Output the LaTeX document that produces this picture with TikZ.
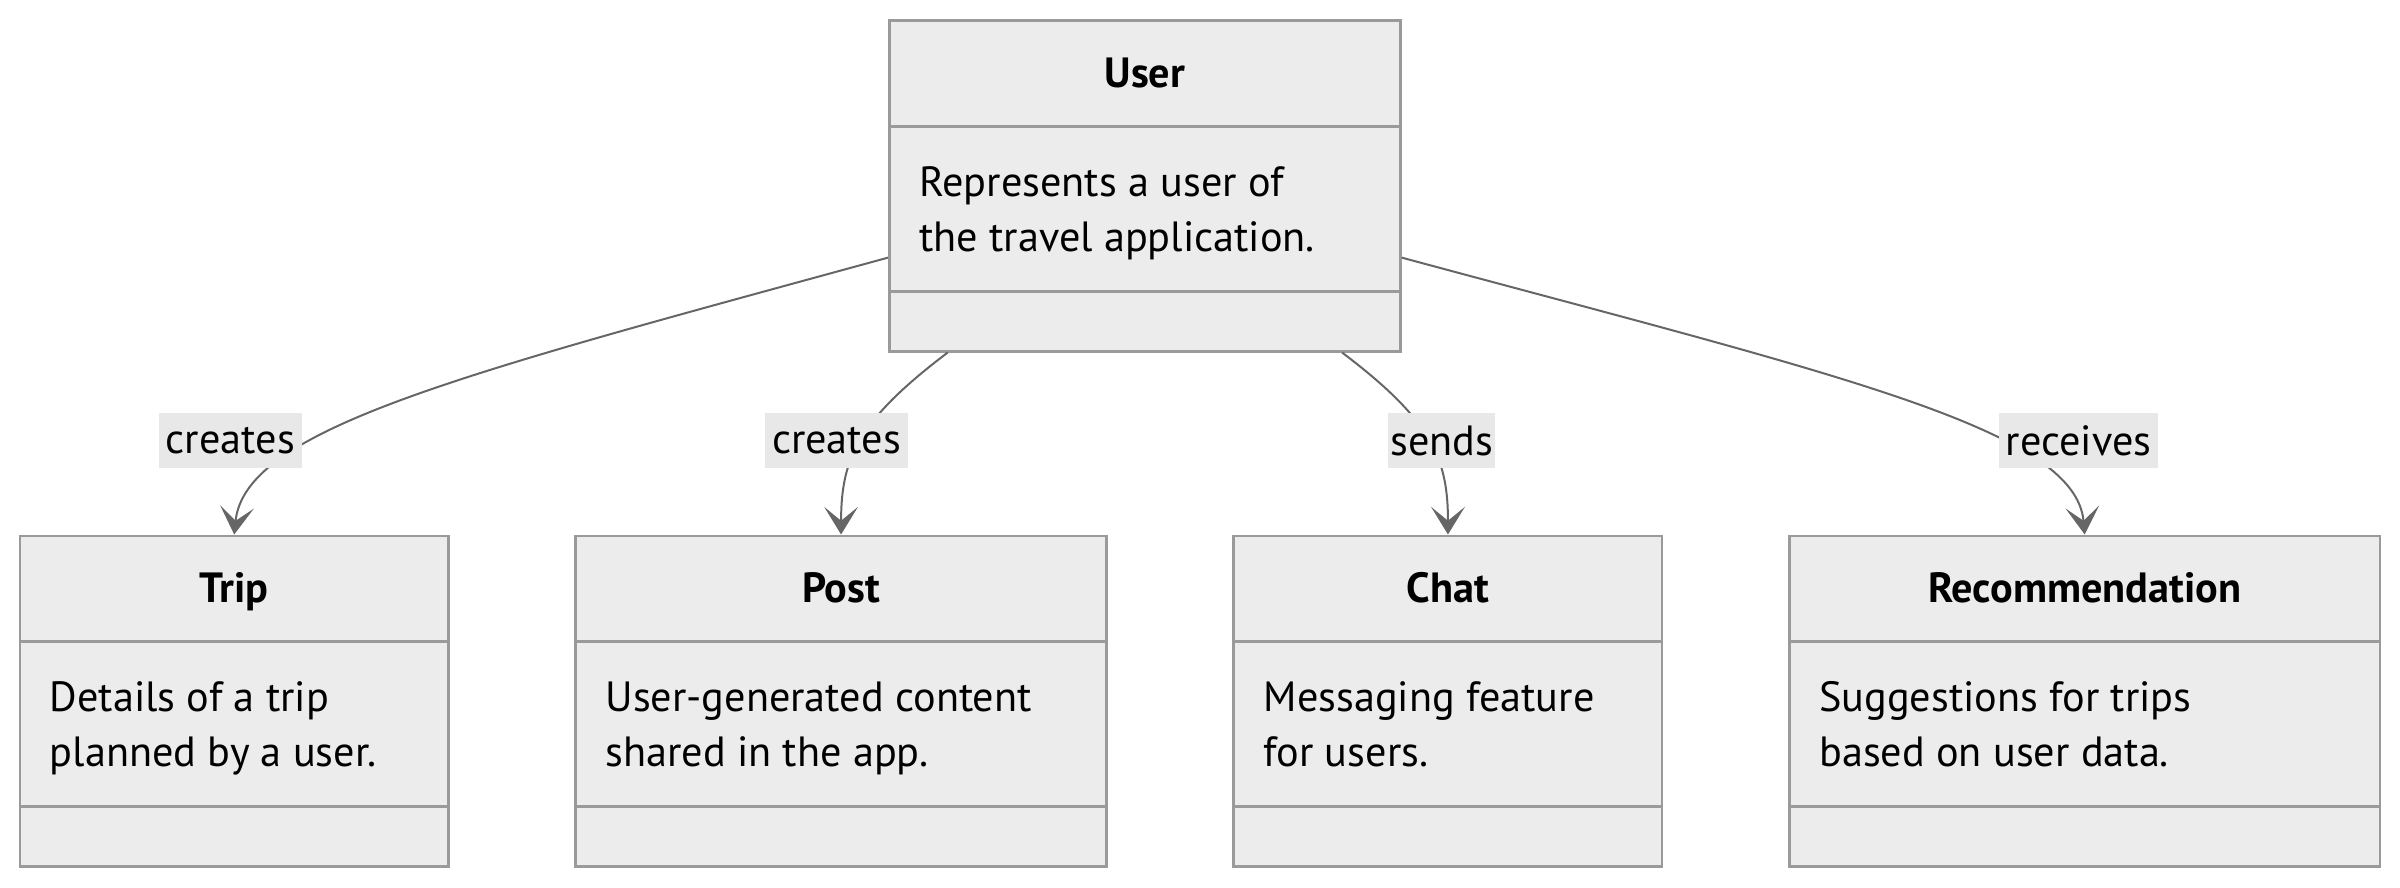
\documentclass[tikz,border=0pt]{standalone}
\usepackage{fontspec}
\setmainfont{PT Sans}
\usetikzlibrary{arrows.meta,positioning}

\definecolor{boxfill}{HTML}{ECECEC}
\definecolor{boxline}{HTML}{9A9A9A}
\definecolor{edgeline}{HTML}{666666}
\definecolor{labelfill}{HTML}{E8E8E8}

\begin{document}
\begin{tikzpicture}[
    x=0.5pt, y=-0.5pt,
    every node/.style={font=\fontsize{13.8pt}{18pt}\selectfont, text=black},
    classbox/.style={
        draw=boxline,
        fill=boxfill,
        line width=0.8pt,
        minimum height=108pt,
        inner sep=0pt
    },
    divider/.style={draw=boxline, line width=0.8pt},
    title/.style={font=\fontsize{13.8pt}{18pt}\selectfont\bfseries, anchor=base},
    desc/.style={align=left, anchor=base west, inner sep=0pt},
    edgelabel/.style={fill=labelfill, inner sep=0pt, minimum width=46.5pt, minimum height=18pt},
    arrow/.style={-{Stealth[length=9pt, width=11pt, inset=4.5pt]}, draw=edgeline, line width=0.65pt}
]
\useasboundingbox (0,0) rectangle (1568,580);

% User class (top)
\node[classbox, minimum width=167pt] (user) at (748,121.5) {};
\draw[divider] ([yshift=-35pt]user.north west) -- ([yshift=-35pt]user.north east);
\draw[divider] ([yshift=20pt]user.south west) -- ([yshift=20pt]user.south east);
\node[title] (usertitle) at ([yshift=-22.2pt]user.north) {User};
\node[desc] (userdesc) at ([xshift=10pt, yshift=-75.8pt]user.north west) {Represents a user of\\the travel application.};

% Trip class
\node[classbox, minimum width=140pt] (trip) at (153,458) {};
\draw[divider] ([yshift=-35pt]trip.north west) -- ([yshift=-35pt]trip.north east);
\draw[divider] ([yshift=20pt]trip.south west) -- ([yshift=20pt]trip.south east);
\node[title] (triptitle) at ([yshift=-22.2pt]trip.north) {Trip};
\node[desc] (tripdesc) at ([xshift=10pt, yshift=-75.8pt]trip.north west) {Details of a trip\\planned by a user.};

% Post class
\node[classbox, minimum width=173.5pt] (post) at (549.5,458) {};
\draw[divider] ([yshift=-35pt]post.north west) -- ([yshift=-35pt]post.north east);
\draw[divider] ([yshift=20pt]post.south west) -- ([yshift=20pt]post.south east);
\node[title] (posttitle) at ([yshift=-22.2pt]post.north) {Post};
\node[desc] (postdesc) at ([xshift=10pt, yshift=-75.8pt]post.north west) {User-generated content\\shared in the app.};

% Chat class
\node[classbox, minimum width=140pt] (chat) at (946,458) {};
\draw[divider] ([yshift=-35pt]chat.north west) -- ([yshift=-35pt]chat.north east);
\draw[divider] ([yshift=20pt]chat.south west) -- ([yshift=20pt]chat.south east);
\node[title] (chattitle) at ([yshift=-22.2pt]chat.north) {Chat};
\node[desc] (chatdesc) at ([xshift=10pt, yshift=-75.8pt]chat.north west) {Messaging feature\\for users.};

% Recommendation class
\node[classbox, minimum width=193pt] (rec) at (1362,458) {};
\draw[divider] ([yshift=-35pt]rec.north west) -- ([yshift=-35pt]rec.north east);
\draw[divider] ([yshift=20pt]rec.south west) -- ([yshift=20pt]rec.south east);
\node[title] (rectitle) at ([yshift=-22.2pt]rec.north) {Recommendation};
\node[desc] (recdesc) at ([xshift=10pt, yshift=-75.8pt]rec.north west) {Suggestions for trips\\based on user data.};

% Associations
\draw[arrow] ([yshift=31pt]user.south west) .. controls (300,245) and (160,280) .. (trip.north);
\draw[arrow] ([xshift=19.5pt]user.south west) .. controls (560,275) and (549.5,300) .. (post.north);
\draw[arrow] ([xshift=-19.5pt]user.south east) .. controls (936,275) and (946,300) .. (chat.north);
\draw[arrow] ([yshift=31pt]user.south east) .. controls (1200,245) and (1356,280) .. (rec.north);

% Association labels
\node[edgelabel] (lcreatestrip) at (150.5,288) {creates};
\node[edgelabel, minimum width=47pt] (lcreatespost) at (546.5,288) {creates};
\node[edgelabel, minimum width=35pt] (lsends) at (942,288) {sends};
\node[edgelabel, minimum width=52pt] (lreceives) at (1358,288) {receives};

\end{tikzpicture}
\end{document}
